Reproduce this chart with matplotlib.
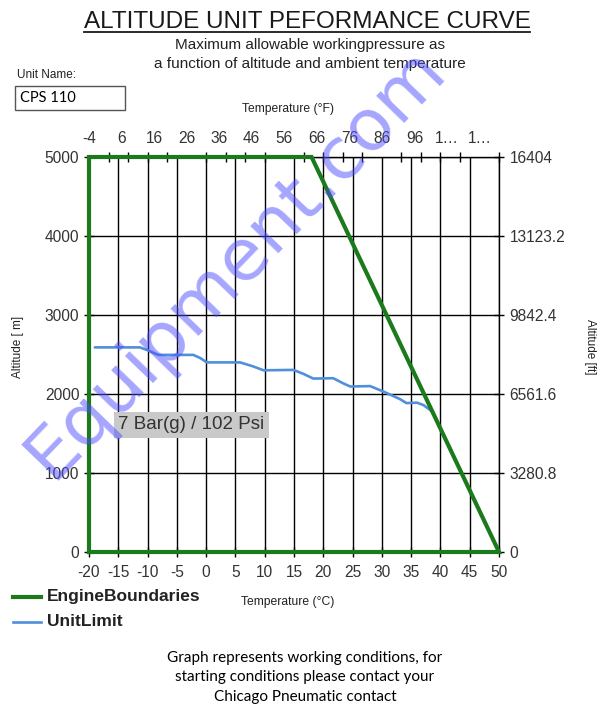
import matplotlib
matplotlib.use('Agg')
import matplotlib.pyplot as plt
from matplotlib.patches import Rectangle
from matplotlib.lines import Line2D

# ---------------- data ----------------
temp_c_ticks = [-20, -15, -10, -5, 0, 5, 10, 15, 20, 25, 30, 35, 40, 45, 50]
alt_m_ticks = [0, 1000, 2000, 3000, 4000, 5000]
alt_ft_labels = ['0', '3280.8', '6561.6', '9842.4', '13123.2', '16404']
temp_f_values = [-4, 6, 16, 26, 36, 46, 56, 66, 76, 86, 96, 106, 116]
temp_f_labels = ['-4', '6', '16', '26', '36', '46', '56', '66', '76', '86', '96', '1…', '1…']
temp_f_minor = list(range(-4, 123, 6))

engine_t = [-20, -20, 18, 50, -20]
engine_a = [0, 5000, 5000, 0, 0]

unit_t = [-19.0, -11.3, -10.2, -8.2, -2.2, -1.0, 0.1, 5.8, 8.0, 9.8, 14.9, 16.6, 18.3, 21.7,
          23.4, 24.6, 28.0, 30.3, 33.1, 34.2, 36.0, 37.1, 38.2, 38.6]
unit_a = [2590, 2590, 2560, 2495, 2495, 2455, 2400, 2400, 2350, 2300, 2305, 2255, 2195, 2200,
          2135, 2095, 2100, 2030, 1935, 1885, 1890, 1860, 1800, 1775]

W, H = 600, 707
def fx(px):
    return px / W
def fy(py):
    return 1 - py / H

fig = plt.figure(figsize=(6, 7.07), dpi=100)
fig.patch.set_facecolor('white')

FONT = ['Liberation Sans', 'DejaVu Sans']
plt.rcParams['font.family'] = FONT
TICK_FS = 11.2
TICK_COL = '#333333'

ax = fig.add_axes([fx(89), fy(552), (499 - 89) / W, (552 - 157) / H])
ax.set_xlim(-20, 50)
ax.set_ylim(0, 5000)
ax.set_xticks(temp_c_ticks)
ax.set_xticklabels([str(t) for t in temp_c_ticks], fontsize=TICK_FS, color=TICK_COL)
ax.set_yticks(alt_m_ticks)
ax.set_yticklabels([str(a) for a in alt_m_ticks], fontsize=TICK_FS, color=TICK_COL)
ax.grid(True, color='black', lw=1.0)
ax.set_axisbelow(True)
ax.tick_params(axis='x', direction='inout', length=7, width=1, pad=6)
ax.tick_params(axis='y', direction='inout', length=7, width=1, pad=3.5)
for s in ax.spines.values():
    s.set_color('black')
    s.set_linewidth(1.0)

# top Fahrenheit axis
axt = ax.twiny()
axt.set_xlim(-4, 122)
axt.set_xticks(temp_f_values)
axt.set_xticklabels(temp_f_labels, fontsize=TICK_FS, color=TICK_COL)
axt.set_xticks(temp_f_minor, minor=True)
axt.tick_params(which='major', length=0, pad=8)
axt.tick_params(which='minor', direction='inout', length=7, width=1)
for s in axt.spines.values():
    s.set_visible(False)

# right feet axis
axr = ax.twinx()
axr.set_ylim(0, 5000)
axr.set_yticks(alt_m_ticks)
axr.set_yticklabels(alt_ft_labels, fontsize=TICK_FS, color=TICK_COL)
axr.tick_params(direction='inout', length=7, width=1, pad=4)
for s in axr.spines.values():
    s.set_visible(False)

green = '#1b7a1b'
blue = '#4f8fdc'
axr.plot(unit_t, unit_a, color=blue, lw=1.9, zorder=4, transform=ax.transData,
         solid_joinstyle='round', solid_capstyle='round')
axr.plot(engine_t, engine_a, color=green, lw=3, zorder=5, clip_on=False,
         solid_joinstyle='miter', transform=ax.transData)

ax.text(-15.0, 1608, '7 Bar(g) / 102 Psi', fontsize=13.5, color='#333333', va='center', ha='left',
        bbox=dict(facecolor='#c9c9c9', edgecolor='none', pad=3.0), zorder=6)

# axis titles
fig.text(fx(18), fy(347), 'Altitude [ m]', rotation=90, fontsize=8.5, color='#222222',
         ha='center', va='center')
fig.text(fx(590), fy(347), 'Altitude [ft]', rotation=270, fontsize=8.5, color='#222222',
         ha='center', va='center')
fig.text(fx(288), fy(109), 'Temperature (°F)', fontsize=8.7, color='#222222', ha='center', va='center')
fig.text(fx(288), fy(602), 'Temperature (°C)', fontsize=8.7, color='#222222', ha='center', va='center')

# title
fig.text(fx(307), fy(28), 'ALTITUDE UNIT PEFORMANCE CURVE', fontsize=17.5, color='#1a1a1a',
         ha='center', va='baseline')
fig.add_artist(Line2D([fx(84), fx(530)], [fy(31.5), fy(31.5)], color='#1a1a1a', lw=1.3))
fig.text(fx(310), fy(45), 'Maximum allowable workingpressure as', fontsize=11, color='#222222',
         ha='center', va='center')
fig.text(fx(310), fy(64), 'a function of altitude and ambient temperature', fontsize=11,
         color='#222222', ha='center', va='center')

# unit name
fig.text(fx(17), fy(75), 'Unit Name:', fontsize=8.5, color='#222222', ha='left', va='center')
fig.add_artist(Rectangle((fx(15), fy(110)), (125 - 15) / W, (110 - 86) / H,
                         facecolor='white', edgecolor='#555555', lw=1, transform=fig.transFigure))
fig.text(fx(20), fy(98), 'CPS 110', fontsize=10.5, color='black', ha='left', va='center',
         family=['Lato', 'DejaVu Sans'])

# legend
fig.add_artist(Line2D([fx(13), fx(41)], [fy(597), fy(597)], color=green, lw=3))
fig.text(fx(47), fy(597), 'EngineBoundaries', fontsize=12.5, fontweight='bold', color='#222222',
         ha='left', va='center')
fig.add_artist(Line2D([fx(13), fx(41)], [fy(622), fy(622)], color=blue, lw=1.9))
fig.text(fx(47), fy(622), 'UnitLimit', fontsize=12.5, fontweight='bold', color='#222222',
         ha='left', va='center')

# bottom note
note = ['Graph represents working conditions, for',
        'starting conditions please contact your',
        'Chicago Pneumatic contact']
for i, line in enumerate(note):
    fig.text(fx(305), fy(658 + 19.5 * i), line, fontsize=11, color='black', ha='center',
             va='center', family=['Lato', 'DejaVu Sans'])

# watermark
fig.text(fx(236), fy(262), 'Equipment.com', fontsize=52, color=(0.3, 0.3, 1.0), alpha=0.5,
         rotation=46, rotation_mode='anchor', ha='center', va='center',
         family=['DejaVu Sans'], zorder=20)

fig.savefig('out.png', dpi=100, facecolor='white')
